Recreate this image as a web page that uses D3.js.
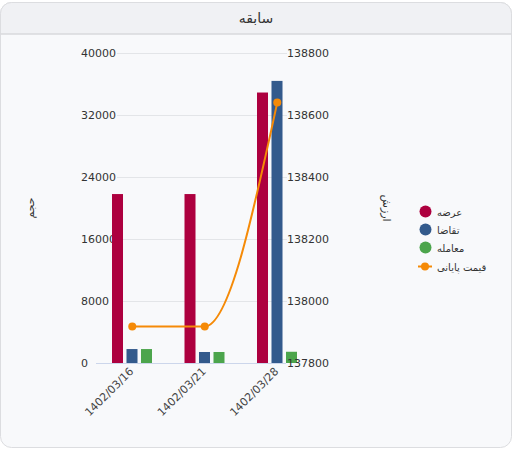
<!DOCTYPE html>
<html><head><meta charset="utf-8">
<script src="https://cdn.jsdelivr.net/npm/d3@7/dist/d3.min.js"></script>
<style>
html,body{margin:0;padding:0;background:#fff;}
svg{display:block;font-family:"DejaVu Sans",sans-serif;}
</style></head>
<body>
<svg id="c" width="516" height="450"></svg>
<script>
const categories = ["1402/03/16","1402/03/21","1402/03/28"];
const seriesNames = ["عرضه","تقاضا","معامله"];
const supply = [21800, 21800, 34900];
const demand = [1800, 1420, 36400];
const trade = [1800, 1420, 1450];
const closePrice = [137918, 137918, 138640];
const leftTicks = [0, 8000, 16000, 24000, 32000, 40000];
const rightTicks = [137800, 138000, 138200, 138400, 138600, 138800];
const title = "سابقه";
const leftTitle = "حجم";
const rightTitle = "ارزش";
const lineName = "قیمت پایانی";

const colors = ["#ad003f", "#335a8c", "#4ca54c"];
const lineColor = "#f58a07";

const svg = d3.select("#c");
// card
svg.append("rect").attr("x",0.5).attr("y",2.5).attr("width",511).attr("height",445)
  .attr("rx",11).attr("fill","#f8f9fb").attr("stroke","#dcdde0");
svg.append("path").attr("d","M0.5,34 L0.5,13.5 A11,11 0 0 1 11.5,2.5 L500.5,2.5 A11,11 0 0 1 511.5,13.5 L511.5,34 Z")
  .attr("fill","#f0f1f4").attr("stroke","#dcdde0");
svg.append("line").attr("x1",0.5).attr("x2",511.5).attr("y1",34).attr("y2",34).attr("stroke","#d6d7db");
svg.append("text").attr("x",256).attr("y",23).attr("text-anchor","middle")
  .attr("font-size",14).attr("fill","#333").text(title);

const yL = d3.scaleLinear().domain([0,40000]).range([363,53]);
const yR = d3.scaleLinear().domain([137800,138800]).range([363,53]);
const x0 = d3.scaleBand().domain(categories).range([96,313.5]).paddingInner(0).paddingOuter(0);
const x1 = d3.scaleBand().domain(seriesNames).range([16,56]).paddingInner(0.241).paddingOuter(0);

// grid
const g = svg.append("g");
g.selectAll("line.grid").data(leftTicks.slice(1)).join("line")
  .attr("x1",117).attr("x2",287).attr("y1",d=>Math.round(yL(d))+0.5).attr("y2",d=>Math.round(yL(d))+0.5)
  .attr("stroke","#e3e5e8");
// left labels (left-aligned, RTL style)
g.selectAll("text.yl").data(leftTicks).join("text")
  .attr("x",81).attr("y",d=>yL(d)+4).attr("text-anchor","start")
  .attr("font-size",11).attr("fill","#333").text(d=>d);
// right labels (except bottom one, drawn above bars)
g.selectAll("text.yr").data(rightTicks.slice(1)).join("text")
  .attr("x",287).attr("y",d=>yR(d)+4).attr("text-anchor","start")
  .attr("font-size",11).attr("fill","#333").text(d=>d);

// bars
const seriesVals = [supply, demand, trade];
const bars = svg.append("g");
seriesVals.forEach((vals,si)=>{
  bars.selectAll("rect.s"+si).data(vals).join("rect")
    .attr("x",(d,i)=>x0(categories[i])+x1(seriesNames[si]))
    .attr("width",x1.bandwidth())
    .attr("y",d=>yL(d)).attr("height",d=>yL(0)-yL(d))
    .attr("fill",colors[si]);
});
// baseline
svg.append("line").attr("x1",96).attr("x2",286).attr("y1",363.5).attr("y2",363.5).attr("stroke","#ccd6eb");

// bottom right label over bars
svg.append("text").attr("x",287).attr("y",yR(rightTicks[0])+4).attr("font-size",11).attr("fill","#333").text(rightTicks[0]);

// line
const pts = closePrice.map((v,i)=>[x0(categories[i])+x0.bandwidth()/2, yR(v)]);
svg.append("path").attr("d",d3.line().curve(d3.curveMonotoneX)(pts))
  .attr("fill","none").attr("stroke",lineColor).attr("stroke-width",2);
svg.selectAll("circle.pt").data(pts).join("circle")
  .attr("cx",d=>d[0]).attr("cy",d=>d[1]).attr("r",4).attr("fill",lineColor);

// x labels
svg.selectAll("text.xl").data(categories).join("text")
  .attr("transform",d=>`translate(${x0(d)+x0.bandwidth()/2+2},372) rotate(-45)`)
  .attr("text-anchor","end").attr("font-size",11).attr("fill","#444").text(d=>d);

// axis titles
svg.append("text").attr("transform","translate(34,208) rotate(-90)").attr("text-anchor","middle")
  .attr("font-size",11).attr("fill","#333").text(leftTitle);
svg.append("text").attr("transform","translate(383,208) rotate(90)").attr("text-anchor","middle")
  .attr("font-size",11).attr("fill","#333").text(rightTitle);

// legend
const leg = svg.append("g");
seriesNames.forEach((n,i)=>{
  const y = 211.5 + i*18;
  leg.append("circle").attr("cx",425.5).attr("cy",y).attr("r",6).attr("fill",colors[i]);
  leg.append("text").attr("x",437).attr("y",y+4).attr("font-size",10).attr("fill","#333").text(n);
});
const ly = 211.5 + 3*18 + 1;
leg.append("line").attr("x1",418).attr("x2",432).attr("y1",ly).attr("y2",ly).attr("stroke",lineColor).attr("stroke-width",2);
leg.append("circle").attr("cx",425).attr("cy",ly).attr("r",4).attr("fill",lineColor);
leg.append("text").attr("x",437).attr("y",ly+4).attr("font-size",10).attr("fill","#333").text(lineName);
</script>
</body></html>
